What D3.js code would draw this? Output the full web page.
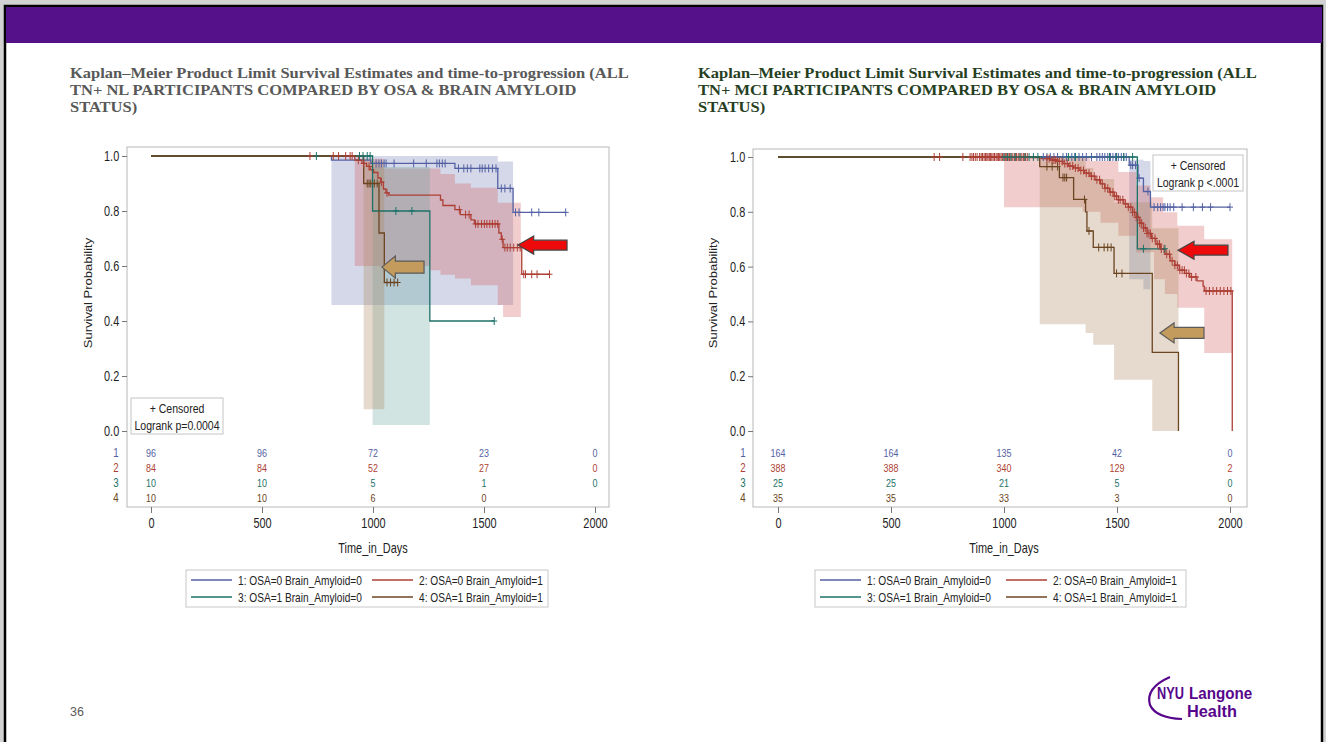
<!DOCTYPE html>
<html>
<head>
<meta charset="utf-8">
<script src="https://cdn.jsdelivr.net/npm/d3@7"></script>
<style>
  html, body { margin: 0; padding: 0; background: #d2d2d2; }
  svg { display: block; }
</style>
</head>
<body>
<svg id="slide" width="1326" height="742"></svg>
<script>
// ---------- shared axis values ----------
const timeTicks = [0, 500, 1000, 1500, 2000];
const survTicks = [0, 0.2, 0.4, 0.6, 0.8, 1.0];
const groupLabels = [
  "1: OSA=0 Brain_Amyloid=0", "2: OSA=0 Brain_Amyloid=1",
  "3: OSA=1 Brain_Amyloid=0", "4: OSA=1 Brain_Amyloid=1"
];

// ---------- TN+ NL cohort ----------
// steps: [day, survival after that day]; censor: days of censored subjects
// band: [day, lower CL, upper CL]
const nlSteps1 = [[0,1],[813,0.985],[990,0.973],[1369,0.955],[1562,0.882],[1631,0.795]];
const nlEnd1 = 1868;
const nlCens1 = [1014,1027,1038,1050,1059,1095,1183,1240,1288,1299,1312,1325,1385,1409,1425,1441,1481,1492,1505,1521,1538,1554,1578,1594,1618,1642,1658,1715,1747,1868];
const nlBand1 = [[813,0.458,1.0],[1562,0.458,0.98],[1631,0.458,0.98]];

const nlSteps2 = [[0,1],[918,0.985],[950,0.973],[971,0.962],[987,0.95],[1003,0.94],[1022,0.92],[1035,0.905],[1047,0.88],[1058,0.866],[1071,0.858],[1304,0.84],[1315,0.82],[1369,0.805],[1393,0.787],[1441,0.768],[1457,0.753],[1567,0.72],[1578,0.697],[1586,0.667],[1670,0.57]];
const nlEnd2 = 1795;
const nlCens2 = [716,821,845,877,897,906,934,958,982,1038,1063,1389,1417,1433,1462,1473,1489,1502,1513,1526,1538,1550,1562,1582,1594,1605,1618,1634,1650,1663,1679,1687,1715,1739,1795];
const nlBand2 = [[918,0.6,0.99],[1047,0.6,0.955],[1256,0.585,0.955],[1304,0.568,0.935],[1369,0.555,0.9],[1441,0.53,0.885],[1562,0.458,0.83],[1586,0.415,0.83],[1666,0.415,0.83]];

const nlSteps3 = [[0,1],[998,0.8],[1256,0.4]];
const nlEnd3 = 1546;
const nlCens3 = [745,939,955,974,987,1103,1175,1546];
const nlBand3 = [[998,0.022,0.96],[1256,0.022,0.96]];

const nlSteps4 = [[0,1],[958,0.9],[1027,0.72],[1051,0.54]];
const nlEnd4 = 1111;
const nlCens4 = [974,982,990,1006,1019,1063,1079,1095,1111];
const nlBand4 = [[958,0.079,0.98],[1051,0.079,0.98]];

const nlRisk1 = [96, 96, 72, 23, 0];
const nlRisk2 = [84, 84, 52, 27, 0];
const nlRisk3 = [10, 10, 5, 1, 0];
const nlRisk4 = [10, 10, 6, 0, null];

// ---------- TN+ MCI cohort ----------
const mciSteps1 = [[0,1],[1554,0.97],[1593,0.923],[1617,0.874],[1648,0.817]];
const mciEnd1 = 2000;
const mciCens1 = [1174,1190,1205,1221,1237,1261,1277,1300,1313,1332,1348,1364,1387,1411,1424,1435,1446,1459,1471,1482,1493,1506,1519,1530,1541,1561,1569,1582,1598,1637,1664,1680,1693,1704,1712,1724,1735,1751,1788,1838,1878,1914,2000];
const mciBand1 = [[1554,0.554,0.99],[1617,0.517,0.985],[1648,0.517,0.985]];

const mciSteps2 = [[0,1],[1118,0.998],[1166,0.994],[1205,0.989],[1237,0.984],[1261,0.976],[1285,0.967],[1308,0.96],[1332,0.951],[1356,0.941],[1380,0.93],[1403,0.917],[1427,0.902],[1446,0.886],[1467,0.872],[1487,0.857],[1506,0.844],[1530,0.829],[1550,0.817],[1569,0.798],[1585,0.78],[1601,0.759],[1617,0.741],[1633,0.721],[1652,0.703],[1672,0.682],[1693,0.664],[1712,0.645],[1735,0.621],[1756,0.605],[1775,0.587],[1799,0.575],[1822,0.562],[1854,0.548],[1881,0.529],[1886,0.511],[2010,0]];
const mciEnd2 = 2010;
const mciCens2 = [691,715,818,850,858,865,873,881,892,899,905,912,918,924,929,935,940,946,952,958,965,970,976,981,987,993,1000,1006,1012,1018,1024,1031,1039,1047,1055,1063,1071,1079,1087,1095,1103,1190,1200,1213,1221,1229,1237,1245,1257,1269,1280,1292,1304,1316,1328,1340,1352,1364,1376,1387,1399,1411,1423,1435,1447,1459,1470,1482,1490,1498,1506,1514,1526,1538,1550,1561,1569,1577,1585,1593,1601,1609,1617,1625,1633,1641,1648,1656,1668,1680,1688,1696,1708,1720,1732,1744,1756,1767,1778,1788,1798,1807,1818,1830,1849,1894,1909,1925,1941,1957,1973,1989,2004];
const mciBand2 = [[1000,0.817,1.0],[1348,0.8,1.0],[1380,0.8,0.985],[1427,0.76,0.985],[1506,0.713,0.945],[1585,0.652,0.896],[1648,0.652,0.853],[1664,0.554,0.853],[1704,0.554,0.798],[1712,0.5,0.798],[1767,0.45,0.749],[1886,0.285,0.7],[2010,0.285,0.7]];

const mciSteps3 = [[0,1],[1590,0.665]];
const mciEnd3 = 1712;
const mciCens3 = [1000,1016,1031,1050,1071,1092,1111,1130,1150,1285,1316,1467,1498,1530,1569,1617,1712];
const mciBand3 = [];

const mciSteps4 = [[0,1],[1158,0.965],[1245,0.925],[1308,0.845],[1361,0.8],[1367,0.73],[1395,0.67],[1487,0.575],[1656,0.287],[1772,0]];
const mciEnd4 = 1772;
const mciCens4 = [1190,1213,1237,1261,1269,1277,1356,1376,1419,1443,1459,1474,1498,1522];
const mciBand4 = [[1158,0.39,1.0],[1361,0.358,0.96],[1395,0.315,0.92],[1487,0.187,0.835],[1656,0,0.74],[1772,0,0.74]];

const mciRisk1 = [164, 164, 135, 42, 0];
const mciRisk2 = [388, 388, 340, 129, 2];
const mciRisk3 = [25, 25, 21, 5, 0];
const mciRisk4 = [35, 35, 33, 3, 0];

// ---------- styling ----------
const lineColors = ["#5361a3", "#ad3f35", "#1d7268", "#6b4420"];
const bandColors = ["#6f7eb3", "#d05b5b", "#66a5a0", "#a9865b"];
const FONT = "'Liberation Sans', Arial, Helvetica, sans-serif";
const SX = 0.78;   // horizontal squeeze of the SAS graph text

const svg = d3.select("#slide");

// slide frame and header band
svg.append("rect").attr("x", 5).attr("y", 6).attr("width", 1317).attr("height", 740)
  .attr("fill", "#fff").attr("stroke", "#000").attr("stroke-width", 2.5);
svg.append("rect").attr("x", 6).attr("y", 7).attr("width", 1316).attr("height", 36)
  .attr("fill", "#55118a");

function txt(parent, x, y, s, o = {}) {
  const t = parent.append("text")
    .attr("transform", `translate(${x},${y}) ${o.rotate ? "rotate(-90) scale(1," + (o.sx ?? SX) + ")" : "scale(" + (o.sx ?? SX) + ",1)"}`)
    .attr("text-anchor", o.anchor || "start")
    .attr("dy", o.dy ?? "0.35em")
    .attr("font-family", o.family || FONT)
    .attr("font-size", o.size || 13)
    .attr("font-weight", o.weight || "normal")
    .attr("fill", o.fill || "#222")
    .text(s);
  return t;
}

function survAt(steps, t) {
  let s = steps[0][1];
  for (const [d, v] of steps) { if (d <= t) s = v; else break; }
  return s;
}

function drawKM(c) {
  const g = svg.append("g");
  const x = d3.scaleLinear().domain([0, 2000]).range([c.x0, c.x2000]);
  const y = d3.scaleLinear().domain([0, 1]).range([c.y0, c.y1]);
  const [fl, ft, fr, fb] = c.frame;

  // confidence bands
  const area = d3.area().x(d => x(d[0])).y0(d => y(d[1])).y1(d => y(d[2])).curve(d3.curveStepAfter);
  c.series.forEach((s, i) => {
    if (s.band.length)
      g.append("path").attr("d", area(s.band)).attr("fill", bandColors[i]).attr("fill-opacity", 0.3);
  });

  // survival step curves
  const line = d3.line().x(d => x(d[0])).y(d => y(d[1])).curve(d3.curveStepAfter);
  c.series.forEach((s, i) => {
    const pts = s.steps.concat([[s.end, s.steps[s.steps.length - 1][1]]]);
    g.append("path").attr("d", line(pts)).attr("fill", "none")
      .attr("stroke", lineColors[i]).attr("stroke-width", 1.3);
  });

  // censor marks
  c.series.forEach((s, i) => {
    g.append("g").selectAll("path").data(s.censor).join("path")
      .attr("d", t => {
        const cx = x(t), cy = y(survAt(s.steps, t));
        return `M${cx - 3},${cy}h6M${cx},${cy - 4}v8`;
      })
      .attr("stroke", lineColors[i]).attr("stroke-width", 1).attr("fill", "none");
  });

  // frame
  g.append("rect").attr("x", fl).attr("y", ft).attr("width", fr - fl).attr("height", fb - ft)
    .attr("fill", "none").attr("stroke", "#b8b8b8").attr("stroke-width", 1);

  // y axis
  const ya = g.append("g").attr("transform", `translate(${fl},0)`)
    .call(d3.axisLeft(y).tickValues(survTicks).tickFormat(d3.format(".1f")).tickSize(5).tickPadding(5));
  ya.attr("font-size", null).attr("font-family", null);
  ya.select(".domain").remove();
  ya.selectAll("line").attr("stroke", "#777");
  ya.selectAll("text").attr("font-family", FONT).attr("font-size", 14).attr("fill", "#1e1e1e")
    .attr("transform", `scale(${SX},1)`);

  // x axis
  const xa = g.append("g").attr("transform", `translate(0,${fb})`)
    .call(d3.axisBottom(x).tickValues(timeTicks).tickFormat(d3.format("d")).tickSize(6).tickPadding(5));
  xa.attr("font-size", null).attr("font-family", null);
  xa.select(".domain").remove();
  xa.selectAll("line").attr("stroke", "#777");
  xa.selectAll("text").attr("font-family", FONT).attr("font-size", 14).attr("fill", "#1e1e1e")
    .attr("transform", `scale(${SX},1)`);

  // axis titles
  txt(g, (c.x0 + c.x2000) / 2, 548, "Time_in_Days", { anchor: "middle", size: 14 });
  txt(g, c.yTitleX, 293, "Survival Probability", { anchor: "middle", size: 13, rotate: true });

  // number-at-risk table
  c.series.forEach((s, i) => {
    const ry = c.riskY[i];
    txt(g, c.riskLabelX, ry, String(i + 1), { anchor: "middle", size: 12.5, fill: lineColors[i] });
    s.risk.forEach((n, j) => {
      if (n === null) return;
      txt(g, x(timeTicks[j]), ry, String(n), { anchor: "middle", size: 10.5, sx: 0.85, fill: lineColors[i] });
    });
  });

  // censored / logrank inset
  const [bx, by, bw, bh] = c.inset;
  g.append("rect").attr("x", bx).attr("y", by).attr("width", bw).attr("height", bh)
    .attr("fill", "#fff").attr("stroke", "#c4c4c4");
  txt(g, bx + bw / 2, by + 10, "+ Censored", { anchor: "middle", size: 13.5 });
  txt(g, bx + bw / 2, by + 27, c.logrank, { anchor: "middle", size: 13.5 });

  // legend
  const [lx, ly, lw, lh] = c.legend;
  g.append("rect").attr("x", lx).attr("y", ly).attr("width", lw).attr("height", lh)
    .attr("fill", "#fff").attr("stroke", "#c8c8c8");
  groupLabels.forEach((lab, i) => {
    const col = i % 2, row = Math.floor(i / 2);
    const sx = lx + 5 + col * c.legendCol;
    const sy = ly + 10 + row * 17;
    g.append("line").attr("x1", sx).attr("x2", sx + 41).attr("y1", sy).attr("y2", sy)
      .attr("stroke", lineColors[i]).attr("stroke-width", 1.3);
    txt(g, sx + 47, sy, lab, { size: 13 });
  });

  // highlight arrows
  c.arrows.forEach(a => {
    const xt = x(a.tip), xe = x(a.tail), yc = y(a.at);
    const hh = a.half, sh = hh * 0.55, hl = (xe - xt) * 0.32;
    const p = `M${xt},${yc}L${xt + hl},${yc - hh}L${xt + hl},${yc - sh}L${xe},${yc - sh}L${xe},${yc + sh}L${xt + hl},${yc + sh}L${xt + hl},${yc + hh}Z`;
    g.append("path").attr("d", p).attr("fill", a.fill).attr("stroke", a.stroke).attr("stroke-width", 1.2)
      .attr("stroke-linejoin", "miter");
  });
}

drawKM({
  x0: 151, x2000: 595, y0: 431, y1: 156,
  frame: [127, 147, 609, 507],
  yTitleX: 88, riskLabelX: 116, riskY: [453, 468, 483, 498],
  inset: [131, 398, 92, 36], logrank: "Logrank p=0.0004",
  legend: [186, 570, 362, 37], legendCol: 181,
  series: [
    { steps: nlSteps1, end: nlEnd1, censor: nlCens1, band: nlBand1, risk: nlRisk1 },
    { steps: nlSteps2, end: nlEnd2, censor: nlCens2, band: nlBand2, risk: nlRisk2 },
    { steps: nlSteps3, end: nlEnd3, censor: nlCens3, band: nlBand3, risk: nlRisk3 },
    { steps: nlSteps4, end: nlEnd4, censor: nlCens4, band: nlBand4, risk: nlRisk4 }
  ],
  arrows: [
    { tip: 1040, tail: 1230, at: 0.596, half: 11, fill: "#c39b5c", stroke: "#5a5a5a" },
    { tip: 1653, tail: 1874, at: 0.676, half: 9, fill: "#ee0a0a", stroke: "#444" }
  ]
});

drawKM({
  x0: 778, x2000: 1230, y0: 431, y1: 157,
  frame: [753, 149, 1247, 507],
  yTitleX: 713, riskLabelX: 743, riskY: [453, 468, 483, 498],
  inset: [1153, 155, 90, 36], logrank: "Logrank p <.0001",
  legend: [815, 570, 371, 37], legendCol: 186,
  series: [
    { steps: mciSteps1, end: mciEnd1, censor: mciCens1, band: mciBand1, risk: mciRisk1 },
    { steps: mciSteps2, end: mciEnd2, censor: mciCens2, band: mciBand2, risk: mciRisk2 },
    { steps: mciSteps3, end: mciEnd3, censor: mciCens3, band: mciBand3, risk: mciRisk3 },
    { steps: mciSteps4, end: mciEnd4, censor: mciCens4, band: mciBand4, risk: mciRisk4 }
  ],
  arrows: [
    { tip: 1770, tail: 1991, at: 0.66, half: 9, fill: "#ee0a0a", stroke: "#444" },
    { tip: 1690, tail: 1885, at: 0.358, half: 10, fill: "#c39b5c", stroke: "#5a5a5a" }
  ]
});

// ---------- slide titles ----------
const SERIF = "'Liberation Serif', 'Times New Roman', serif";
function title(x, lines, fill) {
  lines.forEach((l, i) => {
    svg.append("text").attr("transform", `translate(${x},${78 + i * 17}) scale(1.1,1)`)
      .attr("font-family", SERIF).attr("font-size", 15).attr("font-weight", "bold")
      .attr("fill", fill).text(l);
  });
}
title(70, ["Kaplan\u2013Meier Product Limit Survival Estimates and time-to-progression (ALL",
           "TN+ NL PARTICIPANTS COMPARED BY OSA & BRAIN AMYLOID",
           "STATUS)"], "#585858");
title(698, ["Kaplan\u2013Meier Product Limit Survival Estimates and time-to-progression (ALL",
            "TN+ MCI PARTICIPANTS COMPARED BY OSA & BRAIN AMYLOID",
            "STATUS)"], "#26401f");

// page number
svg.append("text").attr("x", 70).attr("y", 716).attr("font-family", FONT).attr("font-size", 12.5)
  .attr("fill", "#5a5a5a").text("36");

// NYU Langone Health wordmark
const logo = svg.append("g");
logo.append("path").attr("d", "M1170,677 Q1145,688 1150,705 Q1156,718 1182,719")
  .attr("fill", "none").attr("stroke", "#57068c").attr("stroke-width", 2.2);
logo.append("text").attr("transform", "translate(1157,699) scale(0.8,1)")
  .attr("font-family", FONT).attr("font-weight", "bold").attr("font-size", 16).attr("fill", "#57068c").text("NYU");
logo.append("text").attr("transform", "translate(1189,699) scale(0.95,1)")
  .attr("font-family", FONT).attr("font-weight", "bold").attr("font-size", 16).attr("fill", "#57068c").text("Langone");
logo.append("text").attr("transform", "translate(1187,717) scale(1.02,1)")
  .attr("font-family", FONT).attr("font-weight", "bold").attr("font-size", 16).attr("fill", "#57068c").text("Health");
</script>
</body>
</html>
